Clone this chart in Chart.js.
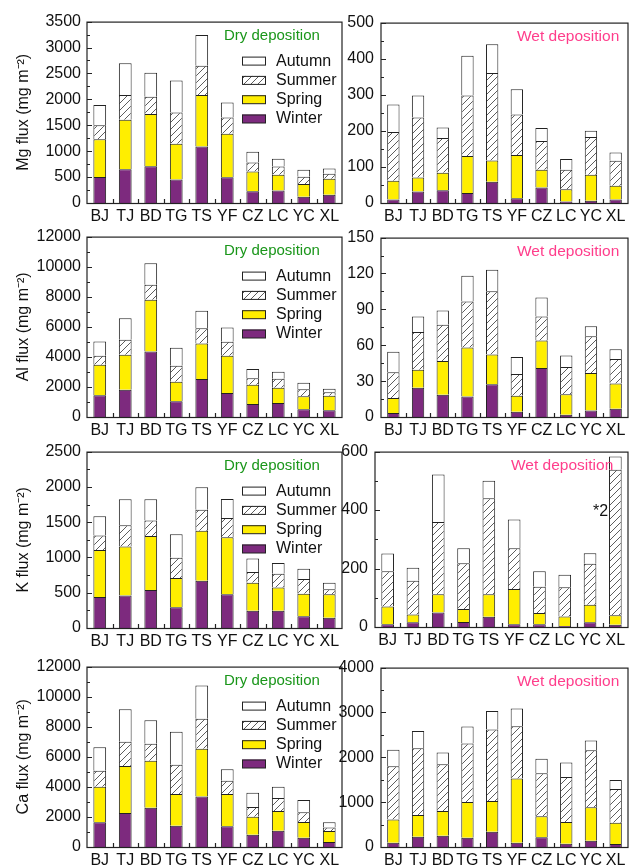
<!DOCTYPE html>
<html>
<head>
<meta charset="utf-8">
<script src="https://cdn.jsdelivr.net/npm/chart.js@4.4.0/dist/chart.umd.min.js"></script>
<style>
  html, body { margin: 0; padding: 0; background: #fff; overflow: hidden; }
  #wrap { position: relative; width: 630px; height: 866px; }
  #wrap canvas { position: absolute; }
</style>
</head>
<body>
<div id="wrap"></div>
<script>
const sites = ['BJ', 'TJ', 'BD', 'TG', 'TS', 'YF', 'CZ', 'LC', 'YC', 'XL'];
const seasons = ['Winter', 'Spring', 'Summer', 'Autumn'];

// Mg (mg m-2), per season
const mgDryWinter = [500, 650, 710, 455, 1090, 495, 225, 240, 120, 160];
const mgDrySpring = [730, 955, 1005, 690, 995, 840, 385, 305, 245, 310];
const mgDrySummer = [270, 480, 335, 600, 565, 315, 170, 160, 140, 95];
const mgDryAutumn = [390, 610, 465, 620, 590, 290, 210, 150, 135, 100];
const mgWetWinter = [10, 32, 35, 28, 59, 13, 43, 4, 6, 10];
const mgWetSpring = [52, 39, 49, 102, 59, 120, 49, 34, 72, 38];
const mgWetSummer = [135, 166, 96, 168, 242, 112, 80, 54, 105, 69];
const mgWetAutumn = [76, 61, 29, 110, 80, 70, 36, 30, 17, 23];

// Al
const alDryWinter = [1440, 1815, 4360, 1040, 2525, 1595, 865, 930, 510, 445];
const alDrySpring = [2035, 2325, 3435, 1305, 2370, 2480, 1285, 1020, 865, 975];
const alDrySummer = [600, 995, 995, 1065, 1015, 930, 420, 595, 465, 220];
const alDryAutumn = [950, 1440, 1440, 1195, 1155, 950, 620, 465, 440, 240];
const alWetWinter = [3.3, 24.4, 18.5, 17.2, 27.4, 4.4, 41, 1.9, 5.5, 6.9];
const alWetSpring = [12.5, 15.2, 28.3, 40.9, 24.9, 13.3, 22.9, 17.2, 31.3, 21.1];
const alWetSummer = [21.6, 31.5, 30.4, 38.5, 52.9, 18.3, 20.2, 22.7, 30.7, 20.4];
const alWetAutumn = [17.1, 13, 11.9, 21.6, 18, 14.1, 15.8, 9.7, 8.3, 8.3];

// K
const kDryWinter = [440, 460, 540, 295, 670, 480, 245, 245, 165, 145];
const kDrySpring = [665, 695, 765, 415, 710, 805, 395, 330, 320, 335];
const kDrySummer = [205, 300, 220, 285, 295, 275, 155, 195, 210, 70];
const kDryAutumn = [275, 370, 300, 335, 320, 270, 190, 150, 145, 90];
const kWetWinter = [9, 16, 50, 17, 35, 9, 9, 3, 16, 8];
const kWetSpring = [61, 27, 62, 45, 77, 121, 39, 33, 60, 32];
const kWetSummer = [121, 115, 247, 156, 328, 139, 90, 100, 140, 498];
const kWetAutumn = [60, 45, 163, 51, 60, 99, 53, 43, 36, 45];

// Ca
const caDryWinter = [1640, 2260, 2615, 1415, 3365, 1375, 820, 1085, 620, 330];
const caDrySpring = [2365, 3120, 3120, 2105, 3165, 2145, 1195, 1305, 1040, 730];
const caDrySummer = [1065, 1620, 1130, 1950, 1995, 885, 640, 865, 645, 230];
const caDryAutumn = [1570, 2165, 1570, 2190, 2215, 775, 955, 750, 815, 350];
const caWetWinter = [95, 230, 250, 205, 340, 95, 220, 75, 140, 65];
const caWetSpring = [520, 485, 555, 800, 685, 1435, 465, 480, 745, 475];
const caWetSummer = [1185, 1485, 1040, 1305, 1595, 1160, 960, 1005, 1270, 755];
const caWetAutumn = [370, 385, 260, 375, 415, 400, 325, 325, 220, 200];

const FONT = '"Liberation Sans", Arial, sans-serif';

// diagonal hatch for summer
function hatch() {
  const c = document.createElement('canvas');
  c.width = 7; c.height = 7;
  const g = c.getContext('2d');
  g.fillStyle = '#fff';
  g.fillRect(0, 0, 7, 7);
  g.strokeStyle = '#333';
  g.lineWidth = 0.8;
  g.beginPath();
  g.moveTo(0, 7); g.lineTo(7, 0);
  g.moveTo(-1, 1); g.lineTo(1, -1);
  g.moveTo(6, 8); g.lineTo(8, 6);
  g.stroke();
  return g.createPattern(c, 'repeat');
}
const summerFill = hatch();
const fills = ['#7d2a7e', '#ffee00', summerFill, '#ffffff'];

function decor(p) {
  return {
    id: 'decor',
    afterDraw(chart) {
      const { ctx, chartArea: a } = chart;
      const x = chart.scales.x, y = chart.scales.y;
      ctx.save();
      ctx.strokeStyle = '#222';
      ctx.lineWidth = 1.2;
      ctx.strokeRect(a.left, a.top + 0.5, a.right - a.left, a.bottom - a.top);
      ctx.beginPath();
      for (let v = 0; v <= p.max; v += p.minor) {
        const py = Math.round(y.getPixelForValue(v)) + 0.5;
        const major = Math.abs(v / p.step - Math.round(v / p.step)) < 1e-6;
        ctx.moveTo(a.left, py);
        ctx.lineTo(a.left + (major ? 5 : 3), py);
      }
      for (let i = 0; i < sites.length - 1; i++) {
        const px = Math.round((x.getPixelForTick(i) + x.getPixelForTick(i + 1)) / 2) + 0.5;
        ctx.moveTo(px, a.bottom);
        ctx.lineTo(px, a.bottom - 4);
      }
      ctx.stroke();

      ctx.textBaseline = 'middle';
      ctx.textAlign = 'left';
      if (p.dry) {
        ctx.font = '15px ' + FONT;
        ctx.fillStyle = '#1a961a';
        ctx.fillText('Dry deposition', a.left + 137, a.top + 14);
        ctx.font = '16px ' + FONT;
        for (let k = 0; k < 4; k++) {
          const s = 3 - k;
          const by = a.top + 35 + k * 19.3;
          const bx = a.left + 155;
          ctx.fillStyle = fills[s];
          ctx.fillRect(bx, by, 24, 8.5);
          ctx.lineWidth = 1;
          ctx.strokeRect(bx + 0.5, by + 0.5, 23, 8);
          ctx.fillStyle = '#111';
          ctx.fillText(seasons[s], bx + 34, by + 4.5);
        }
      } else {
        ctx.font = '15.5px ' + FONT;
        ctx.fillStyle = '#ff3d8b';
        ctx.fillText('Wet deposition', a.left + 136, a.top + 14);
      }
      if (p.note) {
        ctx.font = '16px ' + FONT;
        ctx.fillStyle = '#111';
        ctx.fillText(p.note, a.left + 218, a.top + 60);
      }
      ctx.restore();
    }
  };
}

function panel(p) {
  const padTop = 15, xH = 26, padR = 3;
  const cv = document.createElement('canvas');
  const w = p.right - p.cx + padR;
  const h = (p.bottom - p.top) + padTop + xH;
  cv.width = w; cv.height = h;
  cv.style.left = p.cx + 'px';
  cv.style.top = (p.top - padTop) + 'px';
  document.getElementById('wrap').appendChild(cv);

  new Chart(cv, {
    type: 'bar',
    data: {
      labels: sites,
      datasets: p.data.map((d, i) => ({
        label: seasons[i],
        data: d,
        backgroundColor: fills[i],
        borderColor: '#222',
        borderWidth: 1,
        borderSkipped: 'start',
        barPercentage: 0.5,
        categoryPercentage: 1.0
      }))
    },
    options: {
      responsive: false,
      animation: false,
      layout: { padding: { top: padTop, right: padR, left: 0, bottom: 0 } },
      plugins: { legend: { display: false }, tooltip: { enabled: false } },
      scales: {
        x: {
          stacked: true,
          grid: { display: false, drawTicks: false },
          border: { display: false },
          ticks: { color: '#111', font: { family: FONT, size: 16 }, padding: 4, maxRotation: 0, autoSkip: false },
          afterFit: s => { s.height = xH; }
        },
        y: {
          stacked: true,
          min: 0, max: p.max,
          grid: { display: false, drawTicks: false },
          border: { display: false },
          ticks: { stepSize: p.step, color: '#111', font: { family: FONT, size: 16 }, padding: p.dry ? 6 : 7, callback: v => String(v) },
          title: p.title ? { display: true, text: p.title, color: '#111', font: { family: FONT, size: 16 }, padding: { top: 14, bottom: 0 } } : { display: false },
          afterFit: s => { s.width = p.left - p.cx; }
        }
      }
    },
    plugins: [decor(p)]
  });
}

const rows = [
  { top: 21, bottom: 203, wetTop: 21, wetBottom: 203, wetLeft: 381 },
  { top: 236, bottom: 417, wetTop: 236, wetBottom: 417, wetLeft: 381 },
  { top: 451, bottom: 628, wetTop: 450, wetBottom: 627, wetLeft: 375 },
  { top: 666, bottom: 847, wetTop: 666, wetBottom: 847, wetLeft: 381 }
];

const dryPanels = [
  { title: 'Mg flux (mg m⁻²)', max: 3500, step: 500, minor: 250, data: [mgDryWinter, mgDrySpring, mgDrySummer, mgDryAutumn] },
  { title: 'Al flux (mg m⁻²)', max: 12000, step: 2000, minor: 1000, data: [alDryWinter, alDrySpring, alDrySummer, alDryAutumn] },
  { title: 'K flux (mg m⁻²)', max: 2500, step: 500, minor: 250, data: [kDryWinter, kDrySpring, kDrySummer, kDryAutumn] },
  { title: 'Ca flux (mg m⁻²)', max: 12000, step: 2000, minor: 1000, data: [caDryWinter, caDrySpring, caDrySummer, caDryAutumn] }
];
const wetPanels = [
  { max: 500, step: 100, minor: 50, data: [mgWetWinter, mgWetSpring, mgWetSummer, mgWetAutumn] },
  { max: 150, step: 30, minor: 15, data: [alWetWinter, alWetSpring, alWetSummer, alWetAutumn] },
  { max: 600, step: 200, minor: 100, data: [kWetWinter, kWetSpring, kWetSummer, kWetAutumn], note: '*2' },
  { max: 4000, step: 1000, minor: 500, data: [caWetWinter, caWetSpring, caWetSummer, caWetAutumn] }
];

rows.forEach((r, i) => {
  panel(Object.assign({ dry: true, cx: 0, left: 87, right: 342, top: r.top, bottom: r.bottom }, dryPanels[i]));
  panel(Object.assign({ dry: false, cx: 330, left: r.wetLeft, right: 628, top: r.wetTop, bottom: r.wetBottom }, wetPanels[i]));
});
</script>
</body>
</html>
